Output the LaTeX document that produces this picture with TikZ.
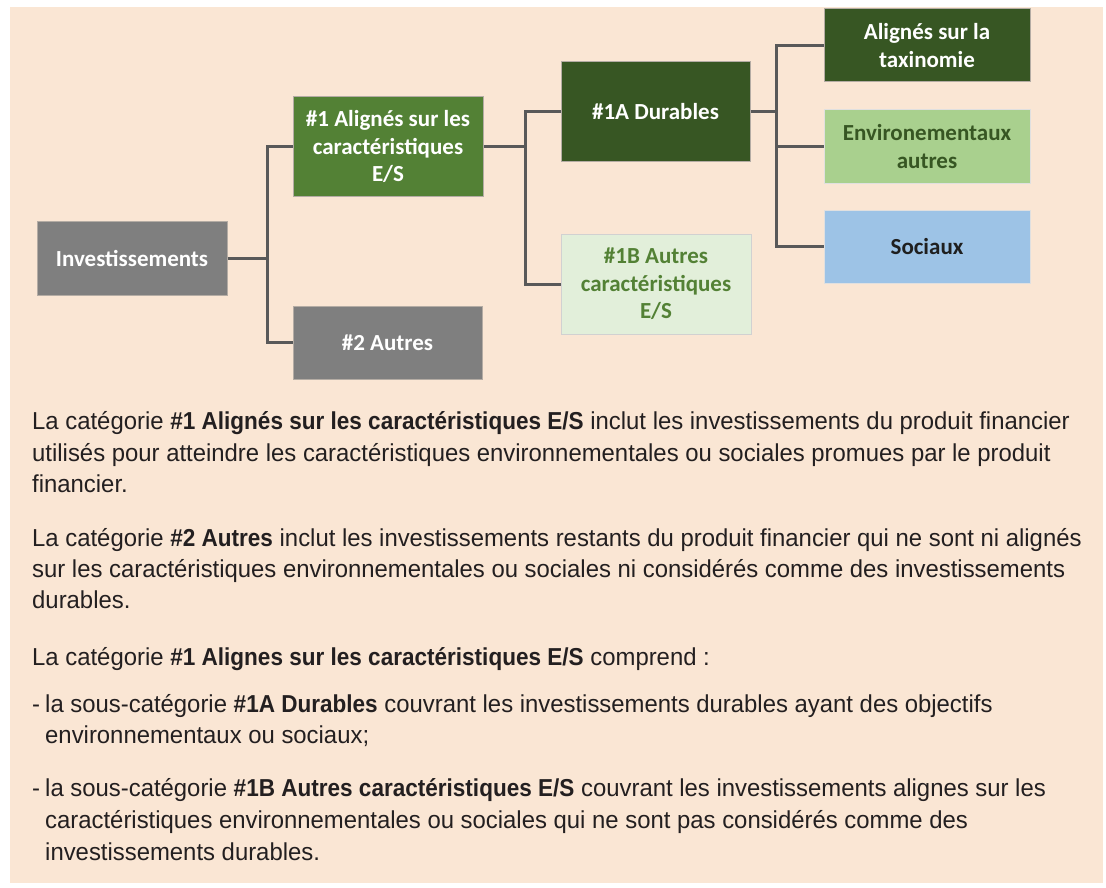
\documentclass[tikz,border=0pt]{standalone}
\usepackage{fontspec}
\setmainfont{Liberation Sans}[FakeStretch=0.975,BoldFeatures={FakeStretch=0.92}]
\newfontfamily\boxfont{Carlito}
\definecolor{peach}{HTML}{FAE6D4}
\definecolor{boxgray}{HTML}{7F7F7F}
\definecolor{midgreen}{HTML}{538135}
\definecolor{darkgreen}{HTML}{375623}
\definecolor{palegreen}{HTML}{E2EFDA}
\definecolor{lightgreen}{HTML}{A9D08E}
\definecolor{lightblue}{HTML}{9DC3E6}
\definecolor{linegray}{HTML}{595959}
\definecolor{bodytext}{HTML}{231F20}
\definecolor{edgegray}{HTML}{B4ACA4}
\tikzset{
  box/.style={draw=edgegray,line width=1pt,inner sep=0pt,align=center,
    font=\boxfont\bfseries\fontsize{23}{27.5}\selectfont},
  conn/.style={draw=linegray,line width=3pt,line cap=butt,line join=miter},
  body/.style={anchor=base west,inner sep=0pt,text=bodytext,font=\fontsize{24.5}{28}\selectfont},
}
\begin{document}
\begin{tikzpicture}[x=1pt,y=-1pt]
\useasboundingbox[fill=white] (0,0) rectangle (1106,888);
\fill[peach] (10,7) rectangle (1103,883);
% boxes
\node[box,fill=boxgray,text=white,minimum width=190pt,minimum height=74pt] (inv) at (132,258) {Investissements};
\node[box,fill=midgreen,text=white,minimum width=190pt,minimum height=99pt] (a1) at (388,146.5) {\#1 Alignés sur les\\caractéristiques\\E/S};
\node[box,fill=boxgray,text=white,minimum width=189pt,minimum height=73pt] (a2) at (387.5,342.5) {\#2 Autres};
\node[box,fill=darkgreen,text=white,minimum width=189pt,minimum height=100pt] (d1a) at (655.5,112) {\#1A Durables};
\node[box,draw=black!18,fill=palegreen,text=midgreen,minimum width=190pt,minimum height=100pt] (d1b) at (656,284) {\#1B Autres\\caractéristiques\\E/S};
\node[box,fill=darkgreen,text=white,minimum width=206pt,minimum height=73pt] (tax) at (927,45.5) {Alignés sur la\\taxinomie};
\node[box,draw=black!12,fill=lightgreen,text=darkgreen,minimum width=206pt,minimum height=73pt] (env) at (927,146.5) {Environementaux\\autres};
\node[box,draw=black!12,fill=lightblue,text=black!88,minimum width=206pt,minimum height=73pt] (soc) at (927,246.5) {Sociaux};
% junctions
\coordinate (j1) at (267,0);
\coordinate (j2) at (525,0);
\coordinate (j3) at (776,0);
% connectors
\draw[conn] (inv.east) -- (inv.east -| j1);
\draw[conn] (a1.west) -- (a1.west -| j1) -- (a2.west -| j1) -- (a2.west);
\draw[conn] (a1.east) -- (a1.east -| j2);
\draw[conn] (d1a.west) -- (d1a.west -| j2) -- (d1b.west -| j2) -- (d1b.west);
\draw[conn] (d1a.east) -- (d1a.east -| j3);
\draw[conn] (tax.west) -- (tax.west -| j3) -- (soc.west -| j3) -- (soc.west);
\draw[conn] (env.west) -- (env.west -| j3);
% text
\node[body] (p1a) at (32,429) {La catégorie \textbf{\#1 Alignés sur les caractéristiques E/S} inclut les investissements du produit financier};
\node[body] (p1b) at (32,461) {utilisés pour atteindre les caractéristiques environnementales ou sociales promues par le produit};
\node[body] (p1c) at (32,492) {financier.};
\node[body] (p2a) at (32,546) {La catégorie \textbf{\#2 Autres} inclut les investissements restants du produit financier qui ne sont ni alignés};
\node[body] (p2b) at (32,577) {sur les caractéristiques environnementales ou sociales ni considérés comme des investissements};
\node[body] (p2c) at (32,608) {durables.};
\node[body] (p3a) at (32,665) {La catégorie \textbf{\#1 Alignes sur les caractéristiques E/S} comprend :};
\node[body] (la1) at (32,712) {-};
\node[body] (la2) at (45,712) {la sous-catégorie \textbf{\#1A Durables} couvrant les investissements durables ayant des objectifs};
\node[body] (la3) at (45,743) {environnementaux ou sociaux;};
\node[body] (lb1) at (32,796) {-};
\node[body] (lb2) at (45,796) {la sous-catégorie \textbf{\#1B Autres caractéristiques E/S} couvrant les investissements alignes sur les};
\node[body] (lb3) at (45,828) {caractéristiques environnementales ou sociales qui ne sont pas considérés comme des};
\node[body] (lb4) at (45,860) {investissements durables.};
\end{tikzpicture}
\end{document}
